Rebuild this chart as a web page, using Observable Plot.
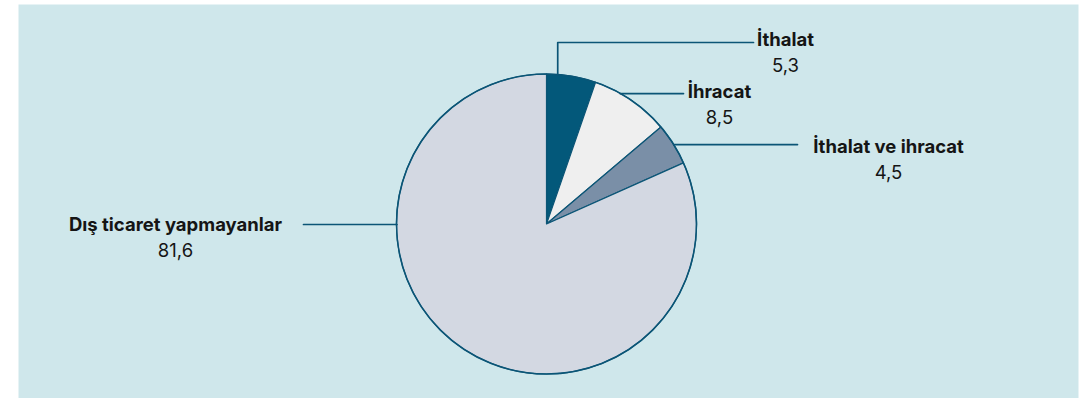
<!DOCTYPE html>
<html>
<head>
<meta charset="utf-8">
<script src="https://cdn.jsdelivr.net/npm/d3@7"></script>
<script src="https://cdn.jsdelivr.net/npm/@observablehq/plot@0.6"></script>
<style>
  html, body { margin: 0; padding: 0; background: #ffffff; }
  #chart svg { display: block; }
</style>
</head>
<body>
<div id="chart"></div>
<script>
// ---- data ----
const categories = ["İthalat", "İhracat", "İthalat ve ihracat", "Dış ticaret yapmayanlar"];
const values = [5.3, 8.5, 4.5, 81.6];
const valueLabels = ["5,3", "8,5", "4,5", "81,6"];
const colors = ["#03587a", "#efefef", "#7a8fa7", "#d3d8e2"];

// ---- layout (page pixel space) ----
const W = 1092, H = 398;
const panel = {x1: 18, y1: 4, x2: 1078, y2: 398};
const pie = {cx: 546.5, cy: 224, r: 150};
const stroke = "#0b5576";
// leader anchor angle (deg, clockwise from 12 o'clock), elbow y (null = stay level), leader end x, label centre
const leaders = [
  {angle: 4.1,  elbowY: 42,   endX: 753, lx: 785, ly: 40},
  {angle: 29.2, elbowY: null, endX: 683, lx: 719, ly: 92},
  {angle: 57.8, elbowY: null, endX: 797, lx: 888, ly: 147},
  {angle: 270,  elbowY: null, endX: 303, lx: 175, ly: 225}
];
const valueGap = 26;
const fontSize = 18.5;

const rows = categories.map((c, i) => ({category: c, value: values[i], label: valueLabels[i], color: colors[i], ...leaders[i]}));

function arcPoint(deg) {
  const a = deg * Math.PI / 180;
  return [pie.cx + pie.r * Math.sin(a), pie.cy - pie.r * Math.cos(a)];
}

const leaderPts = [];
rows.forEach((d, i) => {
  const [x0, y0] = arcPoint(d.angle);
  const yE = d.elbowY == null ? y0 : d.elbowY;
  leaderPts.push({id: i, x: x0, y: y0});
  if (d.elbowY != null) leaderPts.push({id: i, x: x0, y: yE});
  leaderPts.push({id: i, x: d.endX, y: yE});
});

function pieMark(index, scales, values_, dimensions, context) {
  const g = d3.create("svg:g");
  const cx = scales.x(pie.cx), cy = scales.y(pie.cy);
  const r = scales.x(pie.cx + pie.r) - cx;
  const arcs = d3.pie().sort(null).value(d => d.value)(rows);
  const arc = d3.arc().innerRadius(0).outerRadius(r);
  g.attr("transform", `translate(${cx},${cy})`);
  g.selectAll("path.slice").data(arcs).join("path")
    .attr("class", "slice")
    .attr("d", arc)
    .attr("fill", d => d.data.color)
    .attr("stroke", stroke)
    .attr("stroke-width", 1.2)
    .attr("stroke-linejoin", "round");
  g.append("circle").attr("r", r).attr("fill", "none").attr("stroke", stroke).attr("stroke-width", 1.6);
  return g.node();
}

const chart = Plot.plot({
  width: W,
  height: H,
  marginLeft: panel.x1,
  marginTop: panel.y1,
  marginRight: W - panel.x2,
  marginBottom: H - panel.y2,
  x: {domain: [panel.x1, panel.x2], range: [panel.x1, panel.x2], axis: null},
  y: {domain: [panel.y1, panel.y2], range: [panel.y1, panel.y2], axis: null},
  style: {background: "#ffffff", fontFamily: "Inter, sans-serif"},
  marks: [
    Plot.frame({fill: "#cfe7eb", stroke: null}),
    pieMark,
    Plot.line(leaderPts, {x: "x", y: "y", z: "id", stroke: stroke, strokeWidth: 1.7, curve: "linear"}),
    Plot.text(rows, {x: "lx", y: "ly", text: "category", fontWeight: 700, fontSize: fontSize, fill: "#151515", textAnchor: "middle", lineAnchor: "middle"}),
    Plot.text(rows, {x: "lx", y: d => d.ly + valueGap, text: "label", fontWeight: 400, fontSize: fontSize, fill: "#151515", textAnchor: "middle", lineAnchor: "middle"})
  ]
});
document.getElementById("chart").append(chart);
</script>
</body>
</html>
